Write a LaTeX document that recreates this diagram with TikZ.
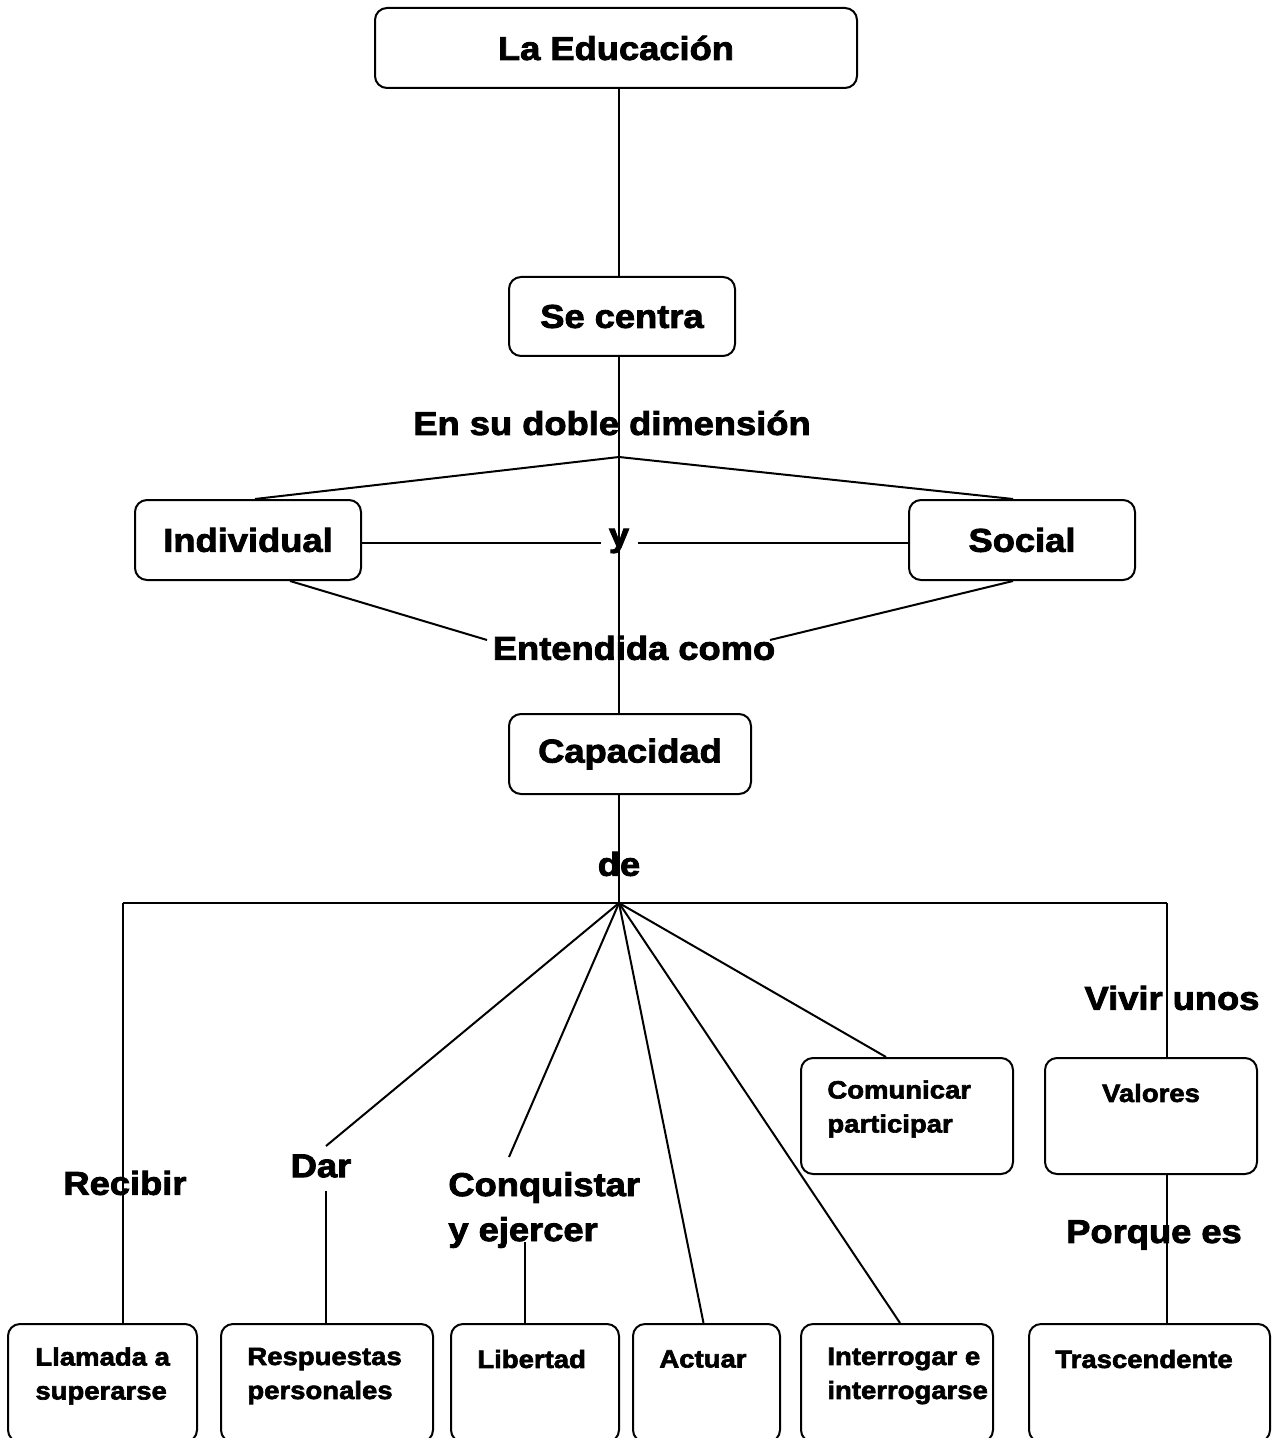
\documentclass[tikz,border=0pt]{standalone}
\usepackage{fontspec}
\setmainfont{Liberation Sans}[FakeStretch=1.1,BoldFeatures={FakeBold=2.5}]
\usetikzlibrary{calc}
\tikzset{
  box/.style={draw,line width=1pt,rounded corners=6pt,inner sep=0pt},
  big/.style={font=\bfseries\fontsize{16.5}{22.5}\selectfont,inner sep=0pt,align=left},
  small/.style={font=\bfseries\fontsize{12.5}{17}\selectfont,inner sep=0pt,align=left},
  conn/.style={line width=1pt}
}
\begin{document}
\begin{tikzpicture}[x=0.5pt,y=-0.5pt]
\useasboundingbox (0,0) rectangle (1277,1438);
\clip (0,0) rectangle (1277,1438);
% boxes with centred text
\node[box,minimum width=241pt,minimum height=40pt,font=\bfseries\fontsize{16.5}{20}\selectfont] (edu) at (616,48) {La Educación};
\node[box,minimum width=113pt,minimum height=39.5pt,font=\bfseries\fontsize{16.5}{20}\selectfont] (sec) at (622,316.5) {Se centra};
\node[box,minimum width=113pt,minimum height=40pt,font=\bfseries\fontsize{16.5}{20}\selectfont] (ind) at (248,540) {Individual};
\node[box,minimum width=113pt,minimum height=40pt,font=\bfseries\fontsize{16.5}{20}\selectfont] (soc) at (1022,540) {Social};
\node[box,minimum width=121pt,minimum height=40pt,font=\bfseries\fontsize{16.5}{20}\selectfont] (cap) at (630,754) {Capacidad};
% boxes with top text
\node[box,minimum width=106pt,minimum height=58pt] (com) at (907,1116) {};
\node[box,minimum width=106pt,minimum height=58pt] (val) at (1151,1116) {};
\node[box,minimum width=94.5pt,minimum height=59pt] (lla) at (102.5,1383) {};
\node[box,minimum width=106pt,minimum height=59pt] (res) at (327,1383) {};
\node[box,minimum width=84pt,minimum height=59pt] (lib) at (535,1383) {};
\node[box,minimum width=73.5pt,minimum height=59pt] (act) at (706.5,1383) {};
\node[box,minimum width=96pt,minimum height=59pt] (int) at (897,1383) {};
\node[box,minimum width=120.5pt,minimum height=59pt] (tra) at (1149.5,1383) {};
% box texts
\node[small,anchor=west] (comT) at (827,1109) {Comunicar\\participar};
\node[small] (valT) at (1151,1093) {Valores};
\node[small,anchor=west] (llaT) at (35,1376) {Llamada a\\superarse};
\node[small,anchor=west] (resT) at (247,1376) {Respuestas\\personales};
\node[small,anchor=west] (libT) at (477,1359) {Libertad};
\node[small,anchor=west] (actT) at (659,1359) {Actuar};
\node[small,anchor=west] (intT) at (827,1376) {Interrogar e\\interrogarse};
\node[small,anchor=west] (traT) at (1055,1359) {Trascendente};
% labels
\node[big] (dob) at (612,423) {En su doble dimensión};
\node[big,inner xsep=4pt] (yT) at (619,541) {y};
\node[big] (ent) at (634,648) {Entendida como};
\node[big] (deT) at (619,864) {de};
\node[big] (rec) at (125,1183) {Recibir};
\node[big] (dar) at (321,1166) {Dar};
\node[big,anchor=west] (con) at (448,1210) {Conquistar\\y ejercer};
\node[big] (viv) at (1172,998) {Vivir unos};
\node[big] (por) at (1154,1235) {Porque es};
% junction coordinates
\coordinate (j1) at (619,457);
\coordinate (j2) at (619,903);
\coordinate (jL) at (123,903);
\coordinate (jR) at (1167,903);
\coordinate (entL) at (487,640);
\coordinate (entR) at (770,640);
\coordinate (darE) at (326,1146);
\coordinate (darS) at (326,1191);
\coordinate (conE) at (509,1157);
\coordinate (conS) at (525,1242);
% connectors
\draw[conn] (edu.south -| j1) -- (sec.north -| j1);
\draw[conn] (sec.south -| j1) -- (cap.north -| j1);
\draw[conn] (cap.south -| j1) -- (j2);
\draw[conn] (j1) -- ($(ind.north)+(7,0)$);
\draw[conn] (j1) -- ($(soc.north)+(-9,0)$);
\draw[conn] (ind.east |- 0,543) -- (yT.west |- 0,543);
\draw[conn] (yT.east |- 0,543) -- (soc.west |- 0,543);
\draw[conn] ($(ind.south)+(42,0)$) -- (entL);
\draw[conn] (soc.south -| 1013,0) -- (entR);
\draw[conn] (jL) -- (jR);
\draw[conn] (jL) -- (lla.north -| jL);
\draw[conn] (jR) -- (val.north -| jR);
\draw[conn] (val.south -| jR) -- (tra.north -| jR);
\draw[conn] (j2) -- (darE);
\draw[conn] (darS) -- (res.north -| darS);
\draw[conn] (j2) -- (conE);
\draw[conn] (conS) -- (lib.north -| conS);
\draw[conn] (j2) -- ($(act.north)+(-3,0)$);
\draw[conn] (j2) -- ($(int.north)+(3,0)$);
\draw[conn] (j2) -- ($(com.north)+(-21,0)$);
\end{tikzpicture}
\end{document}
